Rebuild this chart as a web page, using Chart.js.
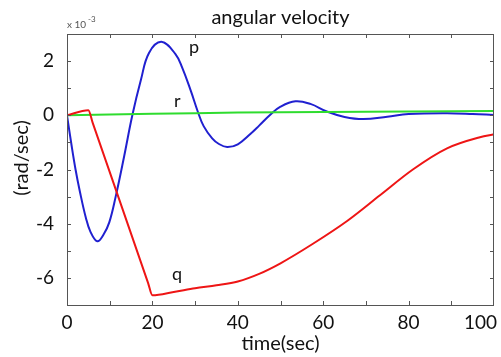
<!DOCTYPE html>
<html>
<head>
<meta charset="utf-8">
<title>angular velocity</title>
<script src="https://cdn.jsdelivr.net/npm/chart.js@4"></script>
<style>
  html, body { margin: 0; padding: 0; background: #fff; }
  canvas { display: block; }
</style>
</head>
<body>
<canvas id="chartVel" width="501" height="357"></canvas>
<script>
// p (roll rate), x10^-3 rad/sec
const tP = [0, 1, 2, 3, 4.4, 5.5, 7.1, 8.5, 9.9, 11.4, 13.4, 15.3, 17.3, 19.2, 22.1, 25.4, 27, 29, 30.6, 32, 34, 35.5, 37.5, 40, 43, 45, 47.6, 50, 53.5, 57, 61, 65, 69.4, 75, 80, 89, 95, 100];
const pVals = [0, -1.04, -2.0, -2.8, -3.77, -4.3, -4.65, -4.42, -3.95, -3.0, -1.5, 0, 1.3, 2.3, 2.71, 2.26, 1.75, 0.9, 0.15, -0.4, -0.85, -1.05, -1.17, -1.07, -0.68, -0.38, 0.02, 0.32, 0.52, 0.42, 0.13, -0.06, -0.14, -0.05, 0.05, 0.08, 0.05, 0.01];

// q (pitch rate)
const tQ = [0, 5, 6, 12, 19, 20, 25, 30, 35, 40, 45, 50, 57.6, 65.6, 73.3, 81, 89, 96.7, 100];
const qVals = [0, 0.19, -0.27, -3.0, -6.19, -6.64, -6.52, -6.38, -6.27, -6.13, -5.85, -5.46, -4.74, -3.9, -2.95, -2.0, -1.22, -0.81, -0.7];

// r (yaw rate)
const tR = [0, 10, 20, 30, 40, 50, 60, 70, 80, 90, 100];
const rVals = [0, 0.03, 0.06, 0.08, 0.1, 0.11, 0.12, 0.13, 0.14, 0.15, 0.16];

const xTicks = [0, 20, 40, 60, 80, 100];
const yTicks = [-6, -4, -2, 0, 2];

const FONT = 'Lato, "Open Sans", sans-serif';

function pts(ts, vs) {
  return ts.map((t, i) => ({ x: t, y: vs[i] }));
}

// box, inward ticks, titles and curve labels
const decor = {
  id: 'decor',
  afterDraw(chart) {
    const c = chart.ctx;
    const a = chart.chartArea;
    const xs = chart.scales.x;
    const ys = chart.scales.y;
    c.save();
    c.strokeStyle = '#555';
    c.lineWidth = 1;
    c.strokeRect(a.left + 0.5, a.top + 0.5, a.right - a.left - 1, a.bottom - a.top);
    c.beginPath();
    for (let v = 10; v < 100; v += 10) {
      const px = Math.round(xs.getPixelForValue(v)) + 0.5;
      c.moveTo(px, a.bottom); c.lineTo(px, a.bottom - 4);
      c.moveTo(px, a.top); c.lineTo(px, a.top + 4);
    }
    for (let v = -6; v < 3; v++) {
      const py = Math.round(ys.getPixelForValue(v)) + 0.5;
      c.moveTo(a.left, py); c.lineTo(a.left + 4, py);
      c.moveTo(a.right, py); c.lineTo(a.right - 4, py);
    }
    c.stroke();

    c.fillStyle = '#111';
    c.font = '19px ' + FONT;
    c.textAlign = 'center';
    c.textBaseline = 'alphabetic';
    xTicks.forEach(v => {
      let px = xs.getPixelForValue(v);
      const w = c.measureText(String(v)).width;
      px = Math.min(px, chart.width - 4 - w / 2);
      c.fillText(String(v), px, 329);
    });

    c.font = '20px ' + FONT;
    c.fillText('angular velocity', (a.left + a.right) / 2, 24);
    c.fillText('time(sec)', (a.left + a.right) / 2, 350);

    c.save();
    c.translate(28, 158);
    c.rotate(-Math.PI / 2);
    c.fillText('(rad/sec)', 0, 0);
    c.restore();

    c.font = '18px ' + FONT;
    c.textAlign = 'left';
    c.fillText('p', 189, 53);
    c.fillText('r', 174, 107);
    c.fillText('q', 172, 280);

    c.fillStyle = '#555';
    c.font = '10px ' + FONT;
    c.fillText('x 10', 67, 28);
    c.font = '8px ' + FONT;
    c.fillText('-3', 88, 22);
    c.restore();
  }
};

new Chart(document.getElementById('chartVel'), {
  type: 'line',
  data: {
    datasets: [
      {
        label: 'q',
        data: pts(tQ, qVals),
        borderColor: '#ee1515',
        borderWidth: 2,
        pointRadius: 0,
        cubicInterpolationMode: 'monotone'
      },
      {
        label: 'r',
        data: pts(tR, rVals),
        borderColor: '#2fdc2f',
        borderWidth: 2,
        pointRadius: 0,
        tension: 0
      },
      {
        label: 'p',
        data: pts(tP, pVals),
        borderColor: '#2020d0',
        borderWidth: 2,
        pointRadius: 0,
        tension: 0.4
      }
    ]
  },
  options: {
    responsive: false,
    animation: false,
    layout: { padding: { top: 34, right: 7, left: 0, bottom: 0 } },
    plugins: {
      legend: { display: false },
      tooltip: { enabled: false },
      title: { display: false }
    },
    scales: {
      x: {
        type: 'linear',
        min: 0,
        max: 100,
        grid: { display: false },
        border: { display: false },
        ticks: { display: false, stepSize: 10 },
        afterFit: s => { s.height = 52; }
      },
      y: {
        min: -7,
        max: 3,
        grid: { display: false, drawTicks: false },
        border: { display: false },
        ticks: {
          stepSize: 1,
          autoSkip: false,
          padding: 13,
          color: '#111',
          font: { family: FONT, size: 19 },
          callback: v => (yTicks.includes(v) ? String(v) : '')
        },
        afterFit: s => { s.width = 67; }
      }
    }
  },
  plugins: [decor]
});
</script>
</body>
</html>
